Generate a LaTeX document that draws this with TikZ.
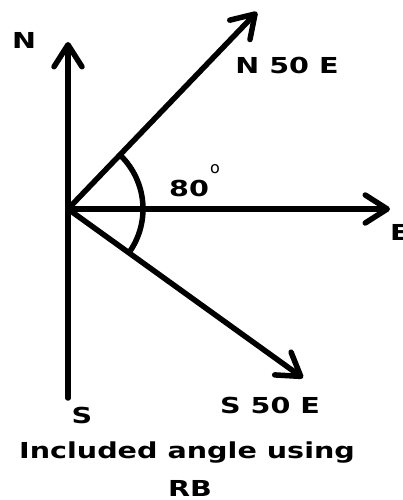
\documentclass[tikz,border=0pt]{standalone}
\usepackage{fontspec}
\setmainfont{DejaVu Sans}
\newfontfamily\widefont[FakeStretch=1.3]{DejaVu Sans}
\usepackage{tikz}
\usetikzlibrary{arrows.meta}

\begin{document}
\begin{tikzpicture}[x=1pt,y=1pt,
		vec/.style={line width=5.5pt,line cap=round,-{Straight Barb[length=22pt,width=28pt,line width=5.5pt,round]}},
		lbl/.style={font=\widefont\fontsize{22}{26}\selectfont\bfseries,inner sep=0pt}]
			\useasboundingbox (-68,-291) rectangle (334,209);
			\coordinate (o) at (0,0);
			\draw[vec] (o) -- (0,167);
			\draw[line width=5.5pt,line cap=round] (o) -- (0,-189);
			\draw[vec] (o) -- (189,197);
			\draw[vec] (o) -- (322,0);
			\draw[vec] (o) -- (235,-169);
			\draw[line width=5.5pt] (-34:75) arc (-34:45:75);
			\node[lbl] (n) at (-44,169) {N};
			\node[lbl] (ne) at (219,144) {N 50 E};
			\node[lbl] (ang) at (121,21) {80};
			\node[font=\fontsize{16}{18}\selectfont,inner sep=0pt] (deg) at (147,40) {o};
			\node[lbl,anchor=west] (e) at (322,-23) {E};
			\node[lbl] (s) at (14,-206) {S};
			\node[lbl] (se) at (202,-196) {S 50 E};
			\node[lbl] (cap1) at (119,-244) {Included angle using};
			\node[lbl] (cap2) at (122,-279) {RB};
		\end{tikzpicture}
\end{document}
